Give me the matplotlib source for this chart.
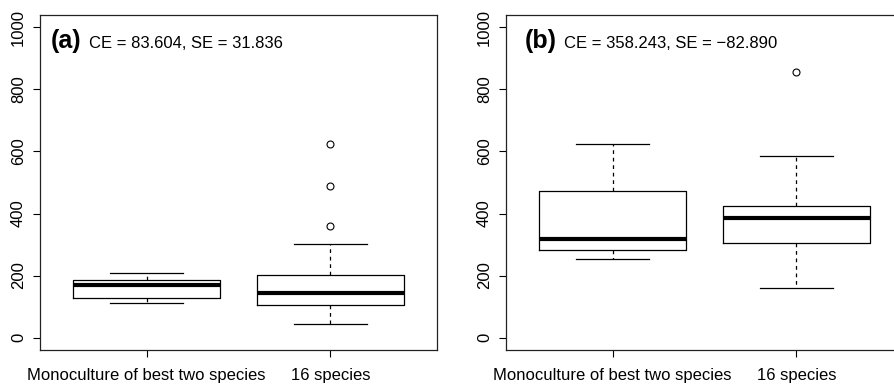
import matplotlib
matplotlib.use('Agg')
import matplotlib.pyplot as plt

plt.rcParams['font.family'] = ['Liberation Sans', 'DejaVu Sans']

# Group names shown on the x axis
groups = ['Monoculture of best two species', '16 species']

# Panel (a) box statistics
a_lo = [110, 44]
a_q1 = [128, 105]
a_med = [171, 144]
a_q3 = [187, 203]
a_hi = [208, 302]
a_fliers = [[], [359, 489, 623]]

# Panel (b) box statistics
b_lo = [254, 159]
b_q1 = [284, 305]
b_med = [318, 386]
b_q3 = [474, 424]
b_hi = [623, 585]
b_fliers = [[], [856]]

yticks = [0, 200, 400, 600, 800, 1000]


def make_stats(lo, q1, med, q3, hi, fliers):
    stats = []
    for i in range(len(groups)):
        stats.append(dict(whislo=lo[i], q1=q1[i], med=med[i], q3=q3[i],
                          whishi=hi[i], fliers=fliers[i], label=groups[i]))
    return stats


def draw(ax, stats, tag, note, tag_x, note_x):
    ax.bxp(stats, positions=[1, 2], widths=0.8, capwidths=0.4,
           boxprops=dict(color='black', linewidth=0.9),
           medianprops=dict(color='black', linewidth=3, solid_capstyle='butt'),
           whiskerprops=dict(color='black', linewidth=0.9, linestyle=(0, (3, 3))),
           capprops=dict(color='black', linewidth=0.9),
           flierprops=dict(marker='o', markersize=5, markerfacecolor='none',
                           markeredgecolor='black', markeredgewidth=0.8))
    ax.set_xlim(0.42, 2.58)
    ax.set_ylim(-40, 1040)
    ax.set_yticks(yticks)
    ax.set_yticklabels([str(v) for v in yticks], rotation=90, va='center', fontsize=12)
    ax.tick_params(axis='y', length=5, width=0.8, pad=5)
    ax.tick_params(axis='x', length=5, width=0.8, pad=8, labelsize=12)
    for s in ax.spines.values():
        s.set_linewidth(0.9)
        s.set_color('#222222')
    ax.text(tag_x, 933, tag, fontsize=18, fontweight='bold', va='baseline', ha='left')
    ax.text(note_x, 933, note, fontsize=12, va='baseline', ha='left')


fig = plt.figure(figsize=(8.95, 3.85), dpi=100)
ax1 = fig.add_axes([40 / 895, 35 / 385, 397 / 895, 335 / 385])
ax2 = fig.add_axes([506 / 895, 35 / 385, 397 / 895, 335 / 385])

draw(ax1, make_stats(a_lo, a_q1, a_med, a_q3, a_hi, a_fliers),
     '(a)', 'CE = 83.604, SE = 31.836', 0.48, 0.685)
draw(ax2, make_stats(b_lo, b_q1, b_med, b_q3, b_hi, b_fliers),
     '(b)', 'CE = 358.243, SE = \u221282.890', 0.52, 0.735)

fig.savefig('out.png', dpi=100)
